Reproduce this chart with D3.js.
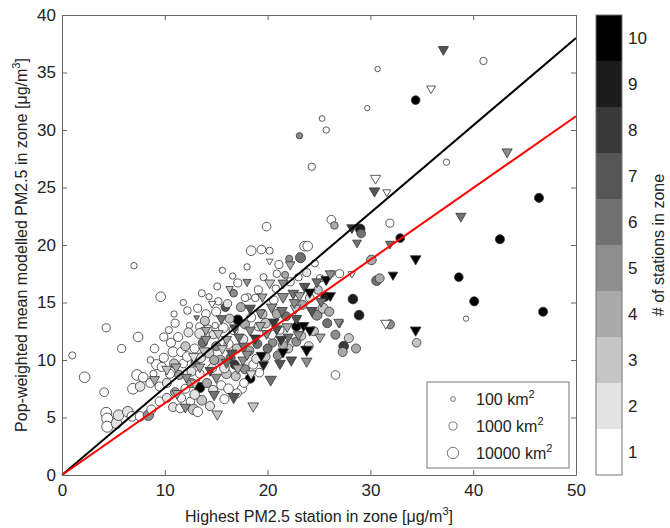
<!DOCTYPE html>
<html>
<head>
<meta charset="utf-8">
<script src="https://cdn.jsdelivr.net/npm/d3@7"></script>
<style>
  body { margin: 0; background: #fff; }
  text { font-family: "Liberation Sans", Arial, sans-serif; fill: #222; }
</style>
</head>
<body>
<svg id="chart"></svg>
<script>
// [highest station, pop-weighted modelled, zone area km2, # stations]
const circles = [
  [41.0,36.0,600,1],[30.7,35.3,150,1],[34.4,32.6,1500,10],[29.7,31.9,150,1],[25.3,31.0,200,1],
  [25.7,30.0,300,1],[23.1,29.5,300,5],[24.3,26.8,600,1],[37.4,27.2,300,1],[46.4,24.1,2000,10],
  [31.9,21.9,1000,1],[26.2,22.2,1500,1],[26.5,21.7,700,4],[29.0,21.4,3000,9],[29.1,21.0,1500,6],
  [32.9,20.6,1500,10],[42.6,20.5,2000,10],[30.1,18.7,3000,4],[30.6,16.9,3000,6],[30.9,17.1,2000,4],
  [38.6,17.2,1500,10],[28.3,15.3,3000,9],[40.1,15.1,2000,10],[46.8,14.2,2000,10],[28.9,13.9,3000,9],
  [39.3,13.6,150,1],[31.9,13.1,2000,5],[34.5,11.5,1500,3],[26.6,12.2,2000,5],[27.9,11.9,2000,3],
  [27.4,11.2,3000,8],[27.3,10.7,2000,4],[28.6,11.0,2000,4],[26.6,8.7,1500,1],[25.6,15.5,2000,9],
  [24.8,13.9,4000,5],[25.4,14.5,4000,3],[24.1,15.4,1500,2],[24.9,16.1,1500,3],[22.8,12.9,2000,10],
  [27.0,17.5,1000,1],[26.2,17.5,300,1],[25.1,17.1,700,1],[23.2,18.9,4000,6],[22.1,18.8,500,5],
  [23.6,19.9,3000,1],[23.9,19.9,3000,1],[18.4,19.5,3000,1],[19.4,19.6,1500,1],[19.9,21.6,1500,1],
  [21.1,18.3,1000,1],[18.0,18.1,300,1],[21.7,17.4,500,4],[23.0,17.2,700,1],[20.9,17.5,700,1],
  [17.1,16.7,1000,1],[19.1,16.1,1000,1],[16.6,15.9,300,1],[18.1,15.5,300,1],[17.8,15.4,700,1],
  [18.8,15.4,700,1],[16.7,15.8,700,5],[15.2,15.1,700,1],[15.9,14.6,1500,7],[17.1,13.5,3000,10],
  [16.7,12.6,2000,1],[19.1,12.9,1500,2],[21.2,12.6,1000,1],[13.4,7.6,4000,10],[18.3,8.4,3000,10],
  [17.5,7.5,2000,1],[17.0,7.1,2000,1],[22.3,11.5,1500,2],[20.5,11.5,1500,5],
  [1.0,10.4,500,1],[2.2,8.5,6000,1],[4.3,12.8,1000,1],[9.6,15.5,3000,1],[7.0,18.2,300,1],
  [7.4,12.0,3000,1],[5.8,11.0,1000,1],[4.1,7.2,1500,1],[4.3,5.4,8000,1],[4.4,4.9,8000,1],
  [4.4,4.2,8000,1],[5.3,4.5,6000,2],[5.5,5.2,6000,2],[6.4,5.5,6000,2],[6.8,5.1,3000,1],
  [7.6,5.1,3000,1],[8.4,5.2,5000,5],[8.7,5.7,2000,1],[7.3,8.7,6000,1],[7.9,8.5,3000,1],
  [6.9,7.5,6000,1],[7.6,7.7,3000,2],[8.6,8.0,2000,1],[8.9,8.8,500,1],[9.2,9.6,4000,1],
  [9.7,9.4,2000,1],[8.6,10.0,400,1],[9.5,7.7,2000,1],[9.5,6.4,2000,1],[10.2,6.7,2000,2],
  [10.2,8.0,2000,2],[10.5,8.8,2000,1],[10.8,5.9,2000,2],[10.6,11.5,2000,1],[10.8,10.7,4000,1],
  [11.6,10.7,2000,1],[11.0,7.2,2000,4],[11.4,8.7,2000,4],[11.6,6.7,1500,1],[12.0,7.5,2000,1],
  [12.5,6.4,1500,1],[12.6,9.0,2000,2],[12.6,8.0,2000,4],[12.8,5.7,5000,3],[13.4,8.8,1500,1],
  [14.1,8.0,2000,4],[14.7,7.4,2000,2],[12.4,13.0,300,1],[13.4,12.9,1000,1],[14.2,12.7,1000,1],
  [13.4,12.3,4000,2],[14.9,13.0,300,1],[15.7,12.8,3000,1],[14.7,12.2,1000,2],
  [12.0,11.2,2000,3],[12.9,11.0,2000,1],[13.7,11.5,2000,6],[14.3,10.6,3000,3],[15.0,11.2,2000,5],
  [15.4,10.0,3000,4],[16.2,11.4,2000,1],[16.4,10.2,2000,6],[17.0,11.0,2000,3],[13.0,9.8,2000,5],
  [11.8,9.7,1500,1],[14.6,9.3,2000,2],[16.0,8.8,3000,3],[15.5,7.8,2000,1],[16.8,9.6,2000,8],
  [17.6,11.8,3000,2],[18.2,10.8,3000,4],[19.0,11.4,2000,6],[18.6,9.6,2000,1],[19.8,10.3,2000,3],
  [20.4,12.2,2000,1],[21.0,10.4,2000,5],[22.0,11.0,2000,3],[14.0,14.0,1500,1],[13.2,14.5,1000,1],
  [16.3,13.6,2000,3],[17.8,13.1,2000,4],[15.1,16.4,500,1],[14.3,15.5,300,1],[19.5,14.0,2000,3],
  [20.6,15.2,1500,1],[21.8,13.8,2000,6],[23.4,14.8,2000,4],[24.0,11.2,2000,2],
  [9.0,11.0,1500,1],[9.9,12.0,1000,1],[10.4,12.6,500,1],[11.3,12.0,2000,1],[11.0,13.2,1000,1],
  [12.2,14.3,700,1],[11.8,15.0,300,1],[13.6,15.8,500,1],[10.9,14.0,300,1],[12.3,12.4,2000,2],
  [13.9,13.4,2000,3],[15.0,14.2,2000,1],[16.1,14.9,1000,2],[17.4,14.6,2000,4],[18.4,13.7,2000,1],
  [19.8,13.2,3000,3],[20.9,14.0,2000,4],[13.5,10.2,3000,2],[14.8,10.0,2000,4],[15.8,9.3,3000,2],
  [16.9,8.6,2000,3],[17.8,9.2,2000,5],[18.9,10.1,2000,2],[19.2,8.9,1500,1],[17.7,8.0,1500,1],
  [11.5,5.8,2000,1],[13.6,6.5,3000,3],[14.4,6.0,2000,2],[15.8,6.6,2000,1],[16.2,7.5,3000,1],
  [13.2,5.5,3000,1],[12.9,7.0,3000,2],[9.9,10.2,2000,1],[10.9,9.7,2000,3],[12.2,10.3,3000,1],
  [21.5,11.3,2000,4],[22.8,11.6,2000,5],[23.3,12.1,1500,3],[20.0,11.0,2000,6],[24.5,12.5,2000,3],
  [25.8,13.2,2000,6],[26.0,14.2,2000,4],[20.8,16.2,700,1],[22.2,16.8,1000,1],[23.8,17.6,1000,2],
  [24.6,18.4,500,1],[19.6,17.2,500,1],[16.6,17.3,300,1],[20.2,19.5,500,1],[15.6,17.8,300,1]
];
const triangles = [
  [37.1,37.0,1500,7],[35.9,33.6,700,1],[43.3,28.1,1500,5],[30.5,25.8,1500,1],[30.4,24.7,2000,7],
  [31.6,24.6,400,1],[38.8,22.5,1500,6],[28.2,21.5,1500,8],[28.7,20.2,700,6],[31.9,20.1,700,6],
  [34.4,18.8,2000,10],[32.2,17.4,1000,10],[28.2,17.5,300,1],[27.0,13.2,500,5],[31.5,13.2,1500,1],
  [34.4,12.6,2000,10],[26.1,15.6,1500,10],[25.7,17.0,2000,10],[26.1,17.5,1500,5],[20.2,18.6,200,1],
  [22.2,18.3,1000,4],[20.2,16.7,1500,3],[21.5,16.7,1500,5],[23.6,16.4,2000,7],[22.5,15.8,2000,6],
  [21.5,15.5,3000,5],[24.1,15.9,2000,10],[26.9,13.3,1000,5],[18.3,14.5,2000,7],[19.3,14.1,1500,5],
  [20.4,14.6,2000,5],[21.4,14.3,2000,6],[22.7,14.5,2000,3],[20.6,13.3,2000,8],[22.8,13.6,2000,7],
  [23.5,13.0,2000,10],[24.1,12.6,2000,10],[18.3,12.6,1500,5],[19.9,12.3,1500,5],[22.0,12.0,1500,6],
  [25.1,12.0,1500,4],[23.8,10.9,4000,10],[22.3,10.0,2000,7],[21.2,9.7,2000,7],[23.8,9.9,2000,5],
  [20.3,8.3,3000,6],[19.6,9.6,1500,9],[21.5,10.7,2000,10],[19.4,10.4,2000,10],[18.4,8.8,1500,2],
  [16.7,6.8,4000,7],[18.6,6.0,2000,3],[15.1,5.3,2000,3],[17.6,10.0,1500,5],[11.1,9.4,1500,4],
  [12.1,8.5,1500,5],[14.4,9.1,1500,7],[15.0,8.5,2000,5],[11.2,7.1,1500,4],[12.0,5.9,1500,5],
  [14.6,14.9,300,1],[13.1,13.7,100,5],[15.5,13.6,1500,6],[16.0,11.8,1500,4],[17.2,12.0,1500,6],
  [16.5,10.6,2000,7],[13.8,10.8,1500,3],[12.8,10.3,1500,2],[25.2,15.1,1500,6],[23.0,12.2,1500,5],
  [14.0,11.8,1500,5],[15.2,12.3,1500,3],[16.8,12.8,1500,7],[17.7,11.2,2000,6],[18.8,11.9,2000,8],
  [19.3,13.0,1500,4],[20.9,12.7,2000,7],[21.9,12.9,1500,4],[22.6,15.0,1500,5],[24.3,14.3,2000,7],
  [24.8,16.8,1500,6],[23.1,15.6,1500,4],[21.3,11.8,2000,8],[16.0,9.8,2000,6],[17.1,9.3,2000,4],
  [18.0,10.5,2000,5],[15.6,11.0,1500,3],[13.4,9.4,1500,4],[14.8,7.0,2000,6],[12.9,8.0,1500,3],
  [10.2,9.2,1500,3],[9.0,8.3,1500,4],[18.0,16.8,500,5],[16.3,16.2,300,3],[14.0,12.6,1000,4],
  [19.5,15.5,1000,4]
];
const fitSlopes = [0.76, 0.624];
const fitColors = ["#000", "#ff0000"];
const xTicks = [0, 10, 20, 30, 40, 50];
const yTicks = [0, 5, 10, 15, 20, 25, 30, 35, 40];
const stationLevels = [1, 2, 3, 4, 5, 6, 7, 8, 9, 10];
const legendAreas = [100, 1000, 10000];

const width = 670, height = 528;
const L = 62, R = 576, T = 15, B = 475;

const svg = d3.select("#chart").attr("width", width).attr("height", height);
const x = d3.scaleLinear().domain([0, 50]).range([L, R]);
const y = d3.scaleLinear().domain([0, 40]).range([B, T]);
const rad = d3.scaleLog().domain([100, 10000]).range([2.4, 5.7]);
const grey = d3.scaleLinear().domain([1, 10]).range(["#ffffff", "#000000"]);

function tri(r) {
  const R2 = r * 1.35, c = R2 * Math.cos(Math.PI / 6);
  return `M${-c},${-R2 / 2}L${c},${-R2 / 2}L0,${R2}Z`;
}

// points
const pts = svg.append("g").attr("stroke", "#333").attr("stroke-width", 0.8);
pts.selectAll("circle")
  .data(circles)
  .join("circle")
  .attr("cx", d => x(d[0]))
  .attr("cy", d => y(d[1]))
  .attr("r", d => rad(d[2]))
  .attr("fill", d => grey(d[3]));
pts.selectAll("path")
  .data(triangles)
  .join("path")
  .attr("transform", d => `translate(${x(d[0])},${y(d[1])})`)
  .attr("d", d => tri(rad(d[2])))
  .attr("fill", d => grey(d[3]));

// regression lines through origin
svg.append("g").selectAll("line")
  .data(fitSlopes)
  .join("line")
  .attr("x1", x(0)).attr("y1", y(0))
  .attr("x2", x(50)).attr("y2", (d) => y(50 * d))
  .attr("stroke", (d, i) => fitColors[i])
  .attr("stroke-width", 2);

// axes, matlab style box with inward ticks
function styleAxis(g) {
  g.select(".domain").attr("stroke", "#666");
  g.selectAll(".tick line").attr("stroke", "#666");
  g.selectAll(".tick text").attr("fill", "#222").style("font-size", "17px")
    .style("font-family", '"Liberation Sans", Arial, sans-serif');
}
svg.append("g").attr("transform", `translate(0,${B})`)
  .call(d3.axisBottom(x).tickValues(xTicks).tickSize(-5).tickSizeOuter(0).tickPadding(9))
  .call(styleAxis);
svg.append("g").attr("transform", `translate(0,${T})`)
  .call(d3.axisTop(x).tickValues(xTicks).tickSize(-5).tickSizeOuter(0).tickFormat(""))
  .call(styleAxis);
svg.append("g").attr("transform", `translate(${L},0)`)
  .call(d3.axisLeft(y).tickValues(yTicks).tickSize(-5).tickSizeOuter(0).tickPadding(6))
  .call(styleAxis);
svg.append("g").attr("transform", `translate(${R},0)`)
  .call(d3.axisRight(y).tickValues(yTicks).tickSize(-5).tickSizeOuter(0).tickFormat(""))
  .call(styleAxis);

// axis titles
const xl = svg.append("text").attr("x", (L + R) / 2).attr("y", 522)
  .attr("text-anchor", "middle").style("font-size", "16px");
xl.append("tspan").text("Highest PM2.5 station in zone [\u03bcg/m");
xl.append("tspan").attr("dy", -7).style("font-size", "11px").text("3");
xl.append("tspan").attr("dy", 7).text("]");

const yl = svg.append("text").attr("transform", `translate(27,${(T + B) / 2}) rotate(-90)`)
  .attr("text-anchor", "middle").style("font-size", "16px");
yl.append("tspan").text("Pop-weighted mean modelled PM2.5 in zone [\u03bcg/m");
yl.append("tspan").attr("dy", -7).style("font-size", "11px").text("3");
yl.append("tspan").attr("dy", 7).text("]");

// legend
const lg = svg.append("g");
lg.append("rect").attr("x", 427).attr("y", 382).attr("width", 142).attr("height", 86)
  .attr("fill", "#fff").attr("stroke", "#777").attr("stroke-width", 1);
const le = lg.selectAll("g.e").data(legendAreas).join("g").attr("class", "e")
  .attr("transform", (d, i) => `translate(453,${399 + i * 27})`);
le.append("circle").attr("r", d => rad(d)).attr("fill", "#fff")
  .attr("stroke", "#555").attr("stroke-width", 0.8);
const lt = le.append("text").attr("x", 23).attr("y", 6).style("font-size", "16px");
lt.append("tspan").text(d => d + " km");
lt.append("tspan").attr("dy", -7).style("font-size", "11px").text("2");

// colorbar
const cbL = 596, cbW = 26;
const cy = d3.scaleLinear().domain([0.5, 10.5]).range([B, T]);
const cb = svg.append("g");
cb.selectAll("rect").data(stationLevels).join("rect")
  .attr("x", cbL).attr("width", cbW)
  .attr("y", d => cy(d + 0.5)).attr("height", d => cy(d - 0.5) - cy(d + 0.5))
  .attr("fill", d => grey(d));
cb.append("rect").attr("x", cbL).attr("y", T).attr("width", cbW).attr("height", B - T)
  .attr("fill", "none").attr("stroke", "#777");
cb.selectAll("text").data(stationLevels).join("text")
  .attr("x", cbL + cbW + 6).attr("y", d => cy(d) + 6)
  .style("font-size", "17px").text(d => d);
svg.append("text").attr("transform", `translate(664,${(T + B) / 2}) rotate(-90)`)
  .attr("text-anchor", "middle").style("font-size", "16px").text("# of stations in zone");
</script>
</body>
</html>
